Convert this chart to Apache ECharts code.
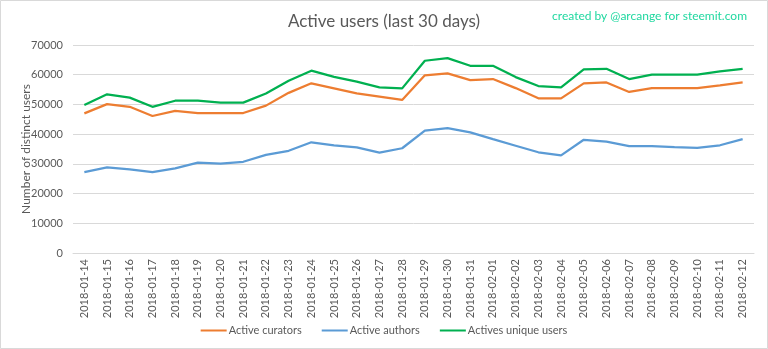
<!DOCTYPE html>
<html>
<head>
<meta charset="utf-8">
<script src="https://cdn.jsdelivr.net/npm/echarts@6/dist/echarts.min.js"></script>
<style>
  html, body { margin: 0; padding: 0; background: #fff; }
  #chart { width: 768px; height: 349px; }
</style>
</head>
<body>
<div id="chart"></div>
<script>
// Daily dates for the 30-day window
const dates = [
  '2018-01-14','2018-01-15','2018-01-16','2018-01-17','2018-01-18','2018-01-19',
  '2018-01-20','2018-01-21','2018-01-22','2018-01-23','2018-01-24','2018-01-25',
  '2018-01-26','2018-01-27','2018-01-28','2018-01-29','2018-01-30','2018-01-31',
  '2018-02-01','2018-02-02','2018-02-03','2018-02-04','2018-02-05','2018-02-06',
  '2018-02-07','2018-02-08','2018-02-09','2018-02-10','2018-02-11','2018-02-12'
];

// Users who voted on that day
const curators = [
  47000, 50100, 49200, 46100, 47800, 47100, 47100, 47100, 49600, 53900,
  57100, 55400, 53700, 52600, 51500, 59800, 60450, 58200, 58550, 55500,
  52050, 52050, 57100, 57400, 54200, 55500, 55500, 55500, 56400, 57400
];

// Users who posted or commented on that day
const authors = [
  27250, 28800, 28150, 27250, 28500, 30400, 30050, 30700, 33000, 34400,
  37250, 36250, 35550, 33750, 35250, 41150, 42050, 40600, 38300, 36100,
  33900, 32850, 38100, 37450, 36000, 36000, 35650, 35350, 36250, 38350
];

// Users with any activity on that day
const uniqueUsers = [
  49800, 53400, 52300, 49200, 51250, 51250, 50600, 50600, 53700, 58000,
  61350, 59300, 57650, 55750, 55400, 64700, 65600, 63000, 63000, 59200,
  56200, 55750, 61800, 62000, 58550, 60000, 60000, 60000, 61100, 62000
];

const yMin = 0, yMax = 70000, yStep = 10000;

const FONT = 'Lato, "Open Sans", sans-serif';
const TEXT = '#595959';
const GRID = '#d9d9d9';

const chart = echarts.init(document.getElementById('chart'), null, { renderer: 'canvas' });

function lineSeries(name, data, color) {
  return {
    name, type: 'line', data,
    symbol: 'none',
    lineStyle: { color, width: 2.25 },
    itemStyle: { color },
    animation: false
  };
}

chart.setOption({
  backgroundColor: '#fff',
  animation: false,
  textStyle: { fontFamily: FONT },
  title: [
    {
      text: 'Active users (last 30 days)',
      left: 'center', top: 8,
      textStyle: { fontFamily: FONT, fontSize: 17, fontWeight: 'normal', color: TEXT }
    },
    {
      text: 'created by @arcange for steemit.com',
      right: 16, top: 5,
      textStyle: { fontFamily: FONT, fontSize: 12, fontWeight: 'normal', color: '#20d8a0' }
    }
  ],
  graphic: [{
    type: 'rect', silent: true, z: -1,
    shape: { x: 0.5, y: 0.5, width: 767, height: 348 },
    style: { fill: 'none', stroke: GRID, lineWidth: 1 }
  }],
  legend: {
    bottom: 8, left: 'center',
    itemWidth: 26, itemHeight: 2, itemGap: 20,
    icon: 'rect',
    textStyle: { fontFamily: FONT, fontSize: 11, color: TEXT, padding: [0, 0, 0, -3] },
    data: ['Active curators', 'Active authors', 'Actives unique users']
  },
  grid: { left: 73, right: 14, top: 45, bottom: 96, containLabel: false },
  xAxis: {
    type: 'category',
    data: dates,
    boundaryGap: true,
    axisLine: { show: true, lineStyle: { color: GRID, width: 1 } },
    axisTick: { show: false },
    axisLabel: {
      rotate: 90, interval: 0, margin: 6,
      fontFamily: FONT, fontSize: 11, color: TEXT
    }
  },
  yAxis: {
    type: 'value',
    min: yMin, max: yMax, interval: yStep,
    name: 'Number of distinct users',
    nameLocation: 'middle', nameGap: 41, nameRotate: 90,
    nameMoveOverlap: false,
    nameTextStyle: { fontFamily: FONT, fontSize: 12, color: TEXT },
    axisLine: { show: false },
    axisTick: { show: false },
    axisLabel: {
      margin: 10, fontFamily: FONT, fontSize: 11, color: TEXT,
      formatter: (v) => String(v)
    },
    splitLine: { lineStyle: { color: GRID, width: 1 } }
  },
  series: [
    lineSeries('Active curators', curators, '#ed7d31'),
    lineSeries('Active authors', authors, '#5b9bd5'),
    lineSeries('Actives unique users', uniqueUsers, '#00b050')
  ]
});
</script>
</body>
</html>
